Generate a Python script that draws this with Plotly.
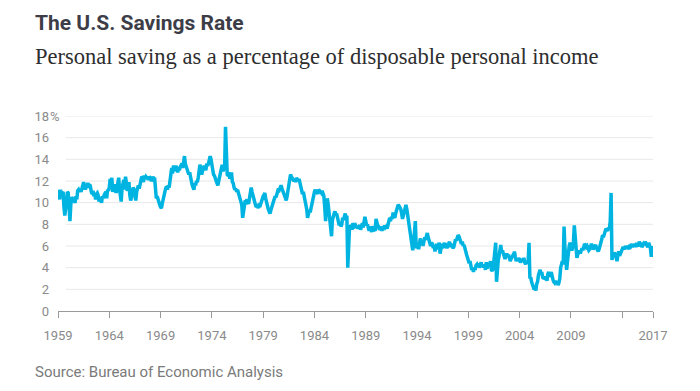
import plotly.graph_objects as go

# Monthly personal saving rate (% of disposable personal income), Jan 1959 onward
rate_1959_1969 = [
    11.2, 10.6, 10.3, 11.2, 10.6, 10.9, 11.0, 9.6, 8.8, 9.5, 10.8, 11.0,
    10.9, 10.0, 8.3, 9.8, 10.5, 10.4, 10.3, 10.1, 10.0, 10.6, 10.3, 11.1,
    11.2, 11.0, 11.2, 11.0, 11.4, 11.6, 11.9, 11.5, 11.2, 11.7, 11.6, 11.8,
    11.6, 11.7, 11.5, 11.0, 10.8, 11.1, 10.6, 10.9, 10.3, 10.8, 10.9, 10.7,
    10.1, 10.5, 10.3, 10.0, 10.6, 10.4, 10.7, 10.8, 11.0, 10.4, 11.2, 11.1,
    11.4, 12.2, 11.9, 12.3, 11.0, 11.4, 11.7, 11.2, 10.9, 11.3, 11.8, 12.3,
    11.2, 10.8, 10.1, 11.4, 11.9, 12.1, 11.2, 12.4, 11.8, 11.1, 11.3, 11.9,
    10.7, 10.2, 10.5, 11.0, 11.4, 11.2, 10.6, 10.2, 11.0, 11.4, 11.6, 11.3,
    11.7, 12.0, 12.4, 12.3, 11.9, 12.5, 12.2, 12.4, 12.3, 12.4, 12.1, 12.4,
    12.3, 12.0, 12.1, 12.4, 12.2, 12.3, 11.5, 10.4, 10.6, 10.2, 10.0, 9.8,
    9.6, 9.5, 9.9, 10.4, 10.8, 11.0, 11.3, 11.5, 11.2, 11.6, 11.4, 11.8,
]
rate_1970s = [
    12.6, 13.2, 12.7, 13.3, 13.3, 12.9, 13.4, 13.2, 12.8, 13.1, 13.0, 13.3,
    13.5, 13.6, 13.2, 13.9, 14.3, 13.6, 13.4, 13.2, 13.0, 12.6, 12.8, 12.3,
    12.0, 11.6, 11.4, 11.2, 11.8, 11.6, 12.0, 11.9, 12.3, 12.7, 13.5, 13.2,
    12.6, 12.9, 13.1, 13.4, 13.2, 13.0, 13.6, 13.4, 13.6, 13.9, 14.3, 14.0,
    13.4, 13.0, 12.6, 12.5, 12.2, 12.0, 11.8, 11.6, 12.0, 12.6, 13.0, 13.3,
    13.5, 12.9, 13.1, 13.4, 17.0, 14.4, 12.6, 12.5, 12.8, 12.2, 12.6, 12.8,
    11.9, 11.8, 11.4, 11.2, 11.3, 11.0, 11.2, 10.9, 10.6, 10.4, 10.1, 9.8,
    8.6, 9.4, 9.8, 10.2, 10.1, 10.3, 10.0, 9.9, 10.4, 10.8, 11.4, 11.0,
    10.6, 10.3, 10.0, 9.8, 9.6, 9.9, 9.5, 9.7, 9.6, 9.9, 10.1, 10.4,
    10.6, 10.7, 10.9, 10.4, 10.0, 9.8, 9.4, 9.2, 9.0, 9.3, 9.6, 10.0,
]
rate_1980s = [
    10.2, 10.4, 10.6, 10.5, 10.9, 11.0, 11.3, 11.2, 11.5, 11.6, 11.3, 11.1,
    10.9, 10.6, 10.3, 10.2, 10.6, 11.1, 11.6, 12.0, 12.6, 12.4, 12.2, 12.0,
    12.0, 12.2, 11.9, 12.3, 12.1, 12.0, 12.2, 11.8, 11.4, 11.0, 10.8, 11.0,
    10.6, 10.3, 10.0, 9.4, 8.6, 9.0, 9.3, 9.1, 9.6, 10.0, 10.5, 10.6,
    11.0, 11.2, 10.9, 11.0, 10.8, 11.2, 11.1, 11.0, 10.9, 11.1, 10.8, 10.6,
    9.6, 8.3, 9.5, 10.4, 9.9, 9.0, 8.4, 7.4, 6.9, 8.4, 8.9, 9.0,
    9.2, 8.9, 9.0, 8.6, 8.1, 7.9, 8.2, 7.8, 8.0, 8.6, 8.4, 8.9,
    9.0, 8.6, 8.8, 4.0, 6.9, 7.6, 7.8, 7.9, 7.5, 8.1, 7.9, 7.8,
    7.9, 7.7, 7.8, 7.6, 7.8, 7.9, 7.5, 8.0, 8.1, 7.7, 8.2, 8.7,
    8.3, 7.9, 8.0, 7.6, 7.4, 7.8, 7.5, 7.3, 7.6, 7.8, 7.5, 7.4,
]
rate_1990s = [
    8.5, 8.0, 7.9, 7.8, 7.5, 7.6, 7.8, 7.4, 7.7, 7.6, 7.9, 7.7,
    7.8, 7.6, 8.0, 8.4, 8.6, 8.3, 8.7, 8.5, 9.1, 8.8, 8.6, 9.0,
    9.3, 9.5, 9.8, 9.7, 9.6, 9.4, 9.0, 8.5, 8.8, 9.3, 9.6, 9.8,
    9.4, 8.9, 8.2, 7.6, 7.0, 6.5, 6.0, 5.6, 6.2, 6.9, 8.3, 6.0,
    5.8, 6.2, 5.7, 6.3, 6.7, 6.2, 6.5, 6.0, 6.4, 6.8, 6.6, 7.1,
    7.2, 6.8, 6.5, 6.1, 6.0, 6.3, 6.2, 5.8, 6.1, 5.5, 5.9, 6.2,
    5.7, 5.9, 6.3, 5.3, 5.9, 6.2, 5.8, 6.0, 6.3, 5.9, 6.0, 5.8,
    6.1, 6.3, 6.4, 5.9, 6.1, 6.0, 5.8, 5.9, 6.4, 6.6, 6.5, 6.8,
    7.0, 6.9, 6.7, 6.5, 6.2, 6.4, 6.0, 6.1, 5.6, 5.5, 5.2, 5.0,
    4.8, 4.4, 4.6, 4.1, 3.8, 4.0, 3.6, 4.0, 3.8, 4.2, 4.3, 4.1,
]
rate_2000s = [
    4.4, 4.0, 4.2, 4.5, 4.1, 4.3, 4.0, 4.2, 3.8, 4.5, 3.9, 4.3,
    4.1, 4.4, 4.6, 3.8, 3.7, 3.9, 5.0, 5.9, 6.3, 2.7, 4.3, 4.7,
    5.1, 5.6, 6.1, 5.4, 5.6, 5.3, 5.0, 4.8, 5.1, 5.3, 5.0, 5.2,
    4.9, 4.6, 4.8, 4.9, 5.1, 5.0, 5.5, 5.0, 4.6, 4.8, 4.6, 4.9,
    4.7, 4.5, 4.6, 4.8, 4.6, 4.9, 4.5, 4.3, 4.6, 4.4, 4.7, 6.3,
    3.0, 3.1, 2.7, 2.4, 2.3, 2.0, 2.1, 1.9, 2.5, 2.7, 3.3, 3.7,
    3.8, 3.4, 3.6, 3.1, 3.0, 3.2, 2.9, 3.0, 2.8, 3.4, 3.6, 3.2,
    3.3, 3.6, 3.1, 2.9, 2.7, 2.6, 2.8, 2.5, 2.7, 2.4, 2.6, 3.0,
    4.0, 4.2, 4.6, 4.3, 7.8, 5.9, 4.7, 3.8, 4.6, 5.6, 6.0, 6.3,
    5.9, 5.6, 5.8, 6.4, 7.9, 6.5, 5.4, 4.9, 5.2, 5.4, 5.6, 5.3,
]
rate_2010_2017 = [
    5.7, 5.8, 5.6, 6.0, 6.2, 6.1, 5.9, 6.0, 5.8, 5.6, 5.7, 5.9,
    6.2, 6.0, 5.7, 5.8, 5.9, 6.1, 5.8, 5.6, 5.5, 5.7, 5.9, 6.3,
    6.6, 7.0, 6.8, 7.1, 7.3, 7.6, 7.5, 7.4, 7.7, 7.6, 8.3, 10.9,
    4.7, 5.3, 5.0, 5.4, 5.2, 5.0, 4.6, 5.2, 5.5, 5.1, 5.3, 5.4,
    5.6, 5.9, 5.8, 5.7, 6.0, 5.8, 6.0, 5.9, 5.7, 6.1, 6.0, 6.2,
    5.9, 6.1, 6.0, 6.2, 5.9, 6.3, 6.0, 6.1, 6.4, 6.2, 6.3, 5.9,
    6.0, 6.2, 6.1, 6.4, 6.2, 6.0, 5.9, 6.3, 6.1, 5.8, 5.0, 5.6,
    6.0,
]

start_year = 1959
tick_years = [1959, 1964, 1969, 1974, 1979, 1984, 1989, 1994, 1999, 2004, 2009, 2014, 2017]
tick_labels = ["1959", "1964", "1969", "1974", "1979", "1984", "1989", "1994", "1999",
               "2004", "2009", "", "2017"]
y_ticks = [0, 2, 4, 6, 8, 10, 12, 14, 16, 18]
y_labels = ["0", "2", "4", "6", "8", "10", "12", "14", "16", "18"]

rates = rate_1959_1969 + rate_1970s + rate_1980s + rate_1990s + rate_2000s + rate_2010_2017
dates = [f"{start_year + i // 12}-{i % 12 + 1:02d}-01" for i in range(len(rates))]

fig = go.Figure()
fig.add_trace(go.Scatter(
    x=dates, y=rates, mode="lines",
    line=dict(color="#00b4e2", width=3.5),
    hoverinfo="skip", showlegend=False,
))

# gridlines (start slightly right of the axis, as in the reference)
shapes = []
for v in y_ticks[1:]:
    shapes.append(dict(type="line", xref="paper", yref="y", x0=0.013, x1=1, y0=v, y1=v,
                       line=dict(color="#e8e8e8", width=1), layer="below"))

tick_font = dict(family="Roboto, Arial, sans-serif", size=13, color="#8a8a8a")

fig.update_layout(
    width=692, height=383,
    margin=dict(l=50.3, r=47.3, t=108.3, b=80.3),
    plot_bgcolor="white", paper_bgcolor="white",
    shapes=shapes,
    xaxis=dict(
        type="date",
        range=[f"{tick_years[0]}-01-01", f"{tick_years[-1]}-01-01"],
        tickmode="array",
        tickvals=[f"{y}-01-01" for y in tick_years],
        ticktext=tick_labels,
        showgrid=False, zeroline=False,
        showline=True, linecolor="#9a9a9a", linewidth=1,
        ticks="outside", ticklen=6, tickwidth=1, tickcolor="#9a9a9a",
        ticklabelstandoff=6,
        tickfont=tick_font,
    ),
    yaxis=dict(
        range=[0, 18],
        tickmode="array", tickvals=y_ticks, ticktext=y_labels,
        showgrid=False, zeroline=False, showline=False,
        ticklabelstandoff=8,
        tickfont=tick_font,
    ),
    annotations=[
        dict(text="<b>The U.S. Savings Rate</b>", xref="paper", yref="paper",
             x=-0.0426, y=1.478, xanchor="left", yanchor="middle", showarrow=False,
             font=dict(family="Roboto, Arial, sans-serif", size=21, color="#3d3d48")),
        dict(text="Personal saving as a percentage of disposable personal income",
             xref="paper", yref="paper", x=-0.0426, y=1.305, xanchor="left", yanchor="middle",
             showarrow=False,
             font=dict(family="Liberation Serif, serif", size=22.5, color="#2e2e2e")),
        dict(text="Source: Bureau of Economic Analysis", xref="paper", yref="paper",
             x=-0.0426, y=-0.315, xanchor="left", yanchor="middle", showarrow=False,
             font=dict(family="Roboto, Arial, sans-serif", size=15, color="#7a7a7a")),
        dict(text="%", xref="paper", yref="y", x=-0.0165, y=18, xanchor="left",
             yanchor="middle", showarrow=False, font=tick_font),
    ],
)

fig.write_html("out.html")
